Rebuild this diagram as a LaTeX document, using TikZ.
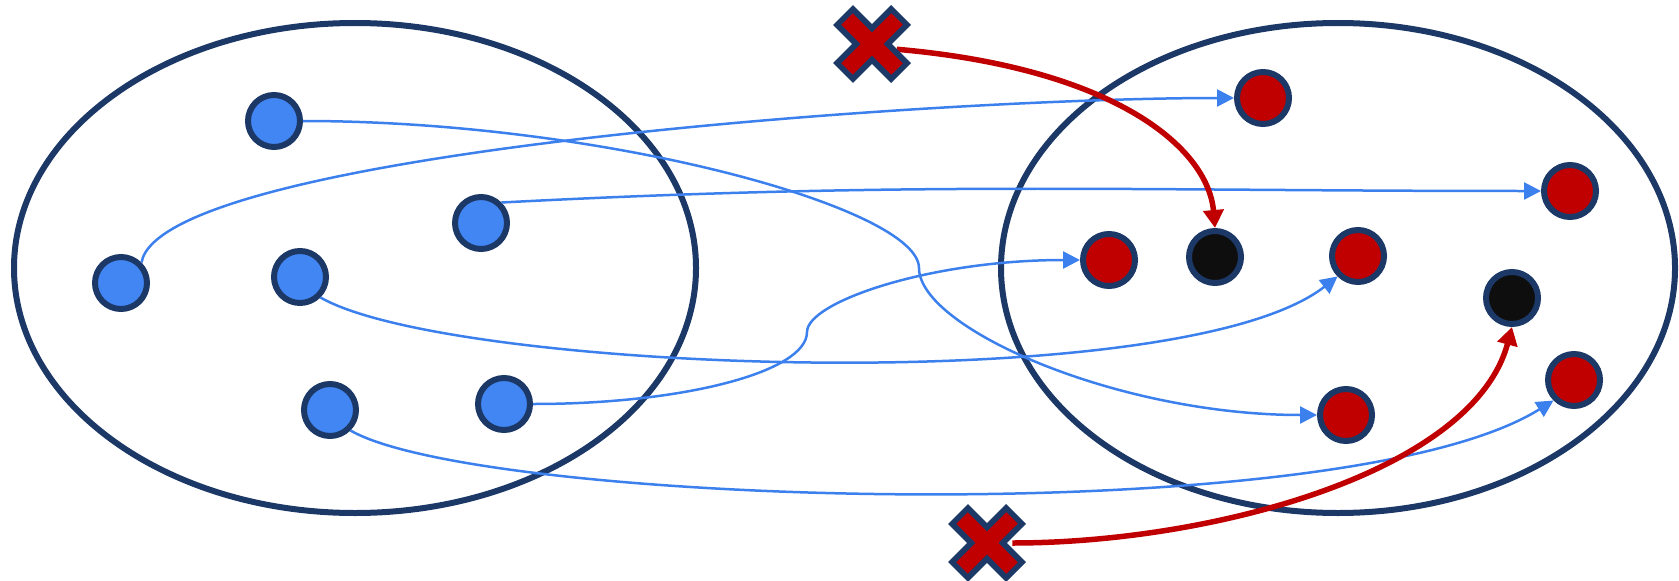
\documentclass[tikz,border=0pt]{standalone}
\usepackage{tikz}
\usetikzlibrary{arrows.meta, shapes.geometric}
\usepackage{xcolor}
\definecolor{navy}{RGB}{28, 56, 102}
\definecolor{srcblue}{RGB}{66, 134, 244}
\definecolor{linkblue}{RGB}{60, 128, 238}
\definecolor{hitred}{RGB}{192, 0, 0}
\definecolor{missblack}{RGB}{14, 14, 14}

% red cross with a navy rim, drawn round a named spot
\newcommand{\failmark}[1]{%
  \draw[navy, line width=0.56cm, shift={(#1)}] (-29,-29) -- (29,29) (-29,29) -- (29,-29);
  \draw[hitred, line width=0.32cm, shift={(#1)}] (-25,-25) -- (25,25) (-25,25) -- (25,-25);}

\begin{document}
\begin{tikzpicture}[
  x = 0.02cm, y = 0.02cm,
  dot/.style      = {circle, minimum size=1.04cm, inner sep=0pt,
                     line width=0.12cm, draw=navy},
  src/.style      = {dot, fill=srcblue},
  hit/.style      = {dot, fill=hitred},
  miss/.style     = {dot, fill=missblack},
  spot/.style     = {circle, minimum size=1cm, inner sep=0pt},
  set/.style      = {draw=navy, line width=0.12cm},
  link/.style     = {-{Triangle[length=0.34cm, width=0.34cm]}, line width=0.05cm, linkblue},
  fail/.style     = {-{Triangle[length=0.36cm, width=0.4cm]}, line width=0.11cm, hitred}
]
\useasboundingbox (0,0) rectangle (1679,-581);

% the two sets
\draw[set] (355,-268)  ellipse [x radius=341, y radius=245];
\draw[set] (1338,-268) ellipse [x radius=337, y radius=245];

% left set
\node[src] (s1) at (274,-121) {};
\node[src] (s2) at (481,-223) {};
\node[src] (s3) at (121,-283) {};
\node[src] (s4) at (300,-277) {};
\node[src] (s5) at (330,-410) {};
\node[src] (s6) at (504,-404) {};

% right set
\node[hit]  (t1) at (1263,-98)  {};
\node[hit]  (t2) at (1570,-191) {};
\node[hit]  (t3) at (1109,-260) {};
\node[hit]  (t4) at (1358,-256) {};
\node[hit]  (t5) at (1574,-380) {};
\node[hit]  (t6) at (1346,-415) {};
\node[miss] (k1) at (1215,-257) {};
\node[miss] (k2) at (1512,-298) {};

\node[spot] (x1) at (872,-44)  {};
\node[spot] (x2) at (987,-543) {};

\draw[link] (s3.45)  .. controls +(80:112) and +(180:300) .. (t1.west);
\draw[link] (s1.east) .. controls +(300,0) and +(0,60) .. (919,-268)
                      .. controls +(0,-60) and +(-200,0) .. (t6.west);
\draw[link] (s2.45)  to[out=3, in=180] (t2.west);
\draw[link] (s4.-45) .. controls +(-30:150) and +(218:200) .. (t4.-135);
\draw[link] (s6.east) .. controls +(150,0) and +(0,-40) .. (807,-332)
                      .. controls +(0,30) and +(-150,0) .. (t3.west);
\draw[link] (s5.-45) .. controls +(-30:150) and +(212:250) .. (t5.-135);

\draw[fail] (x1.-12) .. controls +(-5:220) and +(95:80) .. (k1.north);
\draw[fail] (x2.east) .. controls +(0:200) and +(-105:150) .. (k2.south);

\failmark{x1}
\failmark{x2}
\end{tikzpicture}
\end{document}
